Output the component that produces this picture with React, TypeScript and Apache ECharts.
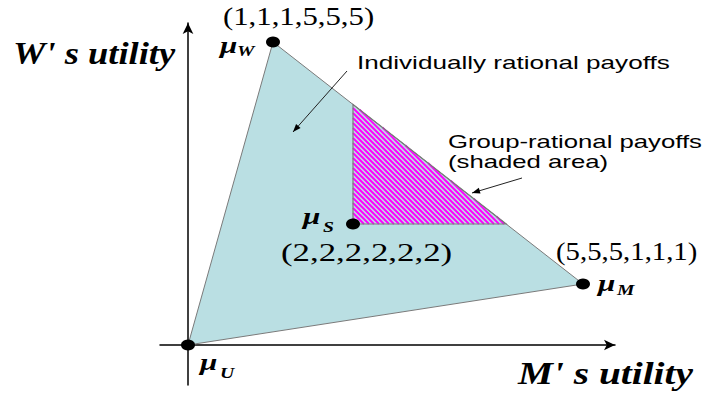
import React, { useEffect, useRef } from "react";
import * as echarts from "echarts";

// Payoff points in utility space (M's utility, W's utility)
const pointU = [0, 0];
const pointW = [85, 303];
const pointM = [395, 61];
const pointS = [165, 121];
const dotPoints = [pointU, pointW, pointM, pointS];
const xRange = [-28, 427];
const yRange = [-40, 322];

const SERIF = "'Liberation Serif', 'Times New Roman', serif";
const SANS = "'Liberation Sans', Arial, sans-serif";

function arrowHead(x1: number, y1: number, x2: number, y2: number, len: number, half: number) {
  const dx = x2 - x1;
  const dy = y2 - y1;
  const l = Math.sqrt(dx * dx + dy * dy);
  const ux = dx / l;
  const uy = dy / l;
  const bx = x2 - ux * len;
  const by = y2 - uy * len;
  return [
    [x2, y2],
    [bx - uy * half, by + ux * half],
    [bx + uy * half, by - ux * half],
  ];
}

function txt(text: string, x: number, y: number, font: string, scaleX: number) {
  return {
    type: "text",
    x,
    y,
    scaleX,
    z: 100,
    style: {
      text,
      font,
      fill: "#000",
      textAlign: "left",
      textVerticalAlign: "middle",
      align: "left",
      verticalAlign: "middle",
    },
  };
}

function arrow(x1: number, y1: number, x2: number, y2: number) {
  return [
    {
      type: "line",
      z: 100,
      shape: { x1, y1, x2, y2 },
      style: { stroke: "#222", lineWidth: 1 },
    },
    {
      type: "polygon",
      z: 100,
      shape: { points: arrowHead(x1, y1, x2, y2, 8, 3) },
      style: { fill: "#000" },
    },
  ];
}

export default function App() {
  const ref = useRef<HTMLDivElement>(null);
  useEffect(() => {
    if (!ref.current) return;
    const chart = echarts.init(ref.current, undefined, { renderer: "svg" });
    const slope = (pointM[1] - pointW[1]) / (pointM[0] - pointW[0]);
    const hatchTop = [pointS[0], pointW[1] + (pointS[0] - pointW[0]) * slope];
    const hatchRight = [pointW[0] + (pointS[1] - pointW[1]) / slope, pointS[1]];
    const hatchTri = [hatchTop, pointS, hatchRight];
    const regionTri = [pointU, pointW, pointM];

    const axisCommon = {
      type: "value",
      axisTick: { show: false },
      axisLabel: { show: false },
      splitLine: { show: false },
    };

    chart.setOption({
      animation: false,
      grid: { left: 160, top: 23, width: 455, height: 362 },
      xAxis: {
        ...axisCommon,
        min: xRange[0],
        max: xRange[1],
        axisLine: {
          show: true,
          onZero: true,
          symbol: ["none", "arrow"],
          symbolSize: [8, 11],
          lineStyle: { color: "#000", width: 1.5 },
        },
      },
      yAxis: {
        ...axisCommon,
        min: yRange[0],
        max: yRange[1],
        axisLine: {
          show: true,
          onZero: true,
          symbol: ["none", "arrow"],
          symbolSize: [8, 11],
          lineStyle: { color: "#000", width: 1.5 },
        },
      },
      series: [
        {
          type: "custom",
          z: 1,
          data: [pointU],
          renderItem: (params: any, api: any) => {
            if (params.dataIndex !== 0) return null;
            const pts = regionTri.map((p) => api.coord(p));
            return {
              type: "polygon",
              shape: { points: pts },
              style: { fill: "#badfe3", stroke: "#7a7a7a", lineWidth: 1 },
            };
          },
        },
        {
          type: "custom",
          z: 2,
          data: [pointS],
          renderItem: (params: any, api: any) => {
            if (params.dataIndex !== 0) return null;
            const pts = hatchTri.map((p) => api.coord(p));
            const f = (p: number[]) => p[0] - p[1];
            const fs = pts.map(f);
            const minC = Math.min(...fs);
            const maxC = Math.max(...fs);
            const children: any[] = [];
            const step = 5;
            for (let c = Math.ceil(minC / step) * step; c <= maxC; c += step) {
              const hits: number[][] = [];
              for (let i = 0; i < 3; i++) {
                const P = pts[i];
                const Q = pts[(i + 1) % 3];
                const fp = f(P) - c;
                const fq = f(Q) - c;
                if ((fp <= 0 && fq >= 0) || (fp >= 0 && fq <= 0)) {
                  if (fp === fq) continue;
                  const t = fp / (fp - fq);
                  hits.push([P[0] + (Q[0] - P[0]) * t, P[1] + (Q[1] - P[1]) * t]);
                }
              }
              if (hits.length >= 2) {
                children.push({
                  type: "line",
                  shape: { x1: hits[0][0], y1: hits[0][1], x2: hits[1][0], y2: hits[1][1] },
                  style: { stroke: "#ff00ff", lineWidth: 1.9 },
                });
              }
            }
            children.push({
              type: "polygon",
              shape: { points: pts },
              style: { fill: "none", stroke: "#7a7a7a", lineWidth: 1.2 },
            });
            return { type: "group", children };
          },
        },
        {
          type: "scatter",
          z: 5,
          symbol: "circle",
          symbolSize: [14, 11],
          itemStyle: { color: "#000", opacity: 1 },
          data: dotPoints,
        },
      ],
      graphic: {
        elements: [
          txt("W' s utility", 13, 53, `italic bold 32px ${SERIF}`, 1.14),
          txt("M' s utility", 518, 373, `italic bold 32px ${SERIF}`, 1.23),
          txt("(1,1,1,5,5,5)", 223, 16.5, `25px ${SERIF}`, 1.23),
          txt("(2,2,2,2,2,2)", 281, 253, `26px ${SERIF}`, 1.34),
          txt("(5,5,5,1,1,1)", 556, 251.5, `25px ${SERIF}`, 1.15),
          txt("Individually rational payoffs", 357, 62.7, `18px ${SANS}`, 1.45),
          txt("Group-rational payoffs", 448, 141.7, `18px ${SANS}`, 1.43),
          txt("(shaded area)", 448, 161.7, `18px ${SANS}`, 1.43),
          txt("μ", 220, 45, `italic bold 24px ${SERIF}`, 1.3),
          txt("W", 237, 51.5, `italic bold 14px ${SERIF}`, 1.4),
          txt("μ", 303, 216, `italic bold 24px ${SERIF}`, 1.3),
          txt("S", 323, 227.5, `italic bold 14px ${SERIF}`, 1.4),
          txt("μ", 200, 362, `italic bold 24px ${SERIF}`, 1.3),
          txt("U", 220, 373, `italic bold 14px ${SERIF}`, 1.4),
          txt("μ", 598, 283, `italic bold 24px ${SERIF}`, 1.3),
          txt("M", 617, 290.5, `italic bold 14px ${SERIF}`, 1.4),
          ...arrow(347, 71, 293, 132),
          ...arrow(522, 178, 472, 193),
        ],
      },
    });
    return () => chart.dispose();
  }, []);
  return (
    <div
      ref={ref}
      style={{ position: "fixed", left: 0, top: 0, width: 709, height: 396, background: "#fff" }}
    />
  );
}
